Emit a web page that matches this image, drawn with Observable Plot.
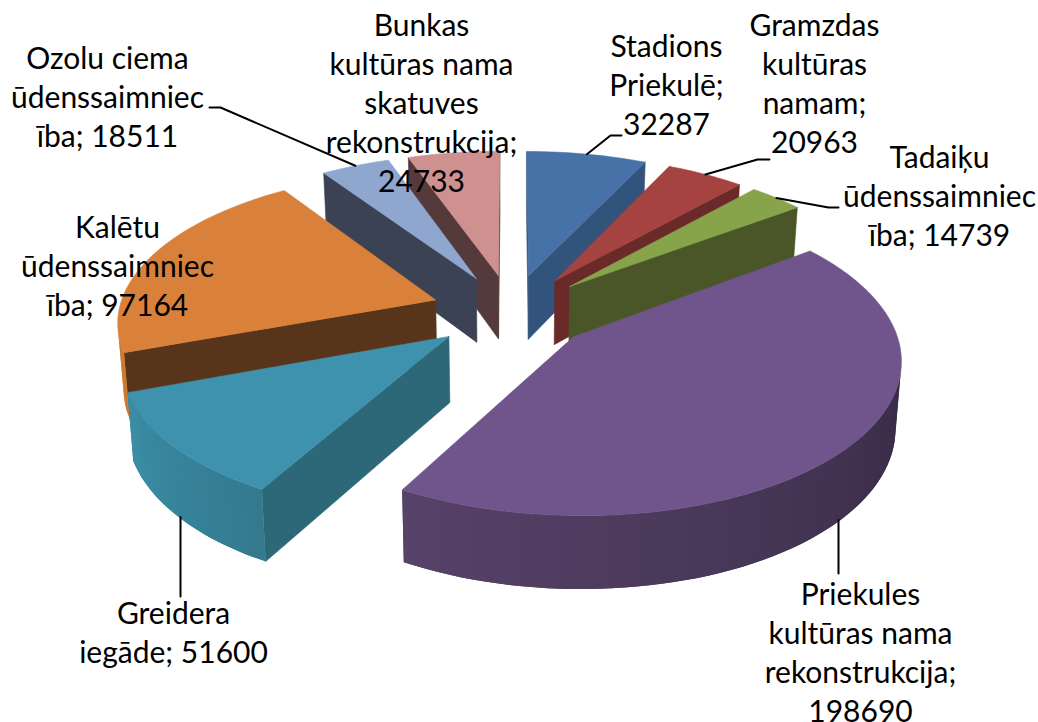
<!DOCTYPE html>
<html><head><meta charset="utf-8">
<script src="https://cdn.jsdelivr.net/npm/d3@7"></script>
<script src="https://cdn.jsdelivr.net/npm/@observablehq/plot@0.6"></script>
<style>html,body{margin:0;padding:0;background:#fff}svg{display:block}</style>
</head><body><div id="chart"></div>
<script>
const categories = ["Stadions Priekulē","Gramzdas kultūras namam","Tadaiķu ūdenssaimniecība","Priekules kultūras nama rekonstrukcija","Greidera iegāde","Kalētu ūdenssaimniecība","Ozolu ciema ūdenssaimniecība","Bunkas kultūras nama skatuves rekonstrukcija"];
const values = [32287,20963,14739,198690,51600,97164,18511,24733];
const labelTexts = [
  "Stadions\nPriekulē;\n32287",
  "Gramzdas\nkultūras\nnamam;\n20963",
  "Tadaiķu\nūdenssaimniec\nība; 14739",
  "Priekules\nkultūras nama\nrekonstrukcija;\n198690",
  "Greidera\niegāde; 51600",
  "Kalētu\nūdenssaimniec\nība; 97164",
  "Ozolu ciema\nūdenssaimniec\nība; 18511",
  "Bunkas\nkultūras nama\nskatuves\nrekonstrukcija;\n24733"
];
const topColors  = ["#4672a8","#a54340","#87a44a","#70558c","#3f92ad","#d9813a","#8fa6cf","#cf9190"];
const wallColors = ["#32547c","#6b2a2a","#4a5628","#2a2236","#2d6879","#58351a","#3a4254","#553a3b"];
const rimStart   = ["#32547c","#6b2a2a","#4a5628","#2b2237","#337a8e","#d07a30","#3a4254","#553a3b"];
const rimEnd     = ["#32547c","#6b2a2a","#4a5628","#574269","#3b8ea6","#c8742c","#3a4254","#553a3b"];
const drawOrder  = [7,6,0,1,2,5,4,3];
const labelX = [666,814,939,860,173,117,107,421];
const labelTop = [44,23,155,592,611,225,56,23];
const leaderElbows = [
  [[610,135],[621,135]],
  [[757,159],[769,159]],
  [[828,207],[838,207]],
  [[838,573]],
  [[180,596]],
  [],
  [[220,107],[209,107]],
  []
];
const leaderOnBase = [false,false,false,true,true,false,false,false];

// pie geometry
const cx=511, cy=311, S=322, Sk=151, q=0.13, explode=0.25, radius=0.985, H=66, baseShrink=0.985, lineStep=39, fontPx=30;
const total = d3.sum(values);
const rad = d => d*Math.PI/180;
function project(X,Y,base){
  let s = 1/(1+q*Y);
  if(base) s*=baseShrink;
  return {x:cx+S*X*s, y:cy+(-Sk*Y+(base?H:0))*s};
}
let acc=0;
const slices = values.map((v,i)=>{
  const a0=acc/total*2*Math.PI; acc+=v; const a1=acc/total*2*Math.PI;
  const mid=(a0+a1)/2;
  return {i,a0,a1,mid,ox:explode*Math.sin(mid),oy:explode*Math.cos(mid)};
});
const rimPt=(sl,a,base)=>project(sl.ox+radius*Math.sin(a),sl.oy+radius*Math.cos(a),base);
const apexPt=(sl,base)=>project(sl.ox,sl.oy,base);
const area=p=>{let t=0;for(let i=0;i<p.length;i++){const a=p[i],b=p[(i+1)%p.length];t+=a.x*b.y-b.x*a.y}return t/2};

const faces=[];
let fid=0;
function addFace(pts,fill,stroke){
  const id=fid++;
  for(const p of [...pts,pts[0]]) faces.push({id,x:p.x,y:p.y,fill,stroke});
}
for(const i of drawOrder){
  const sl=slices[i];
  const w0=[apexPt(sl,false),rimPt(sl,sl.a0,false),rimPt(sl,sl.a0,true),apexPt(sl,true)];
  const w1=[rimPt(sl,sl.a1,false),apexPt(sl,false),apexPt(sl,true),rimPt(sl,sl.a1,true)];
  if(area(w0)<0) addFace(w0,wallColors[i],wallColors[i]);
  if(area(w1)<0) addFace(w1,wallColors[i],wallColors[i]);
  const n=Math.max(2,Math.ceil((sl.a1-sl.a0)/rad(2)));
  const color=d3.interpolateRgb(rimStart[i],rimEnd[i]);
  for(let k=0;k<n;k++){
    const a=sl.a0+(sl.a1-sl.a0)*k/n,b=sl.a0+(sl.a1-sl.a0)*(k+1)/n;
    const facing=[rimPt(sl,a,false),rimPt(sl,a,true),rimPt(sl,b,true),rimPt(sl,b,false)];
    if(area(facing)<=0) continue;
    const e=sl.a0+(sl.a1-sl.a0)*Math.min(k+2,n)/n; // overlap the next strip to hide seams
    const strip=[rimPt(sl,a,false),rimPt(sl,a,true),rimPt(sl,b,true),rimPt(sl,e,true),rimPt(sl,e,false),rimPt(sl,b,false)];
    addFace(strip,color((k+.5)/n),"none");
  }
  const top=[apexPt(sl,false)];
  for(let k=0;k<=n*2;k++) top.push(rimPt(sl,sl.a0+(sl.a1-sl.a0)*k/(n*2),false));
  addFace(top,topColors[i],topColors[i]);
}

const leaders=[];
slices.forEach((sl,i)=>{
  if(!leaderElbows[i].length) return;
  const st=rimPt(sl,sl.mid,leaderOnBase[i]);
  leaders.push({id:i,x:leaderOnBase[i]?leaderElbows[i][0][0]:st.x,y:st.y});
  leaderElbows[i].forEach(p=>leaders.push({id:i,x:p[0],y:p[1]}));
});
const labels=labelTexts.map((t,i)=>({t,x:labelX[i],y:labelTop[i]+(t.split("\n").length-1)/2*lineStep}));

const chart=Plot.plot({
  width:1038,height:722,margin:0,
  x:{axis:null,domain:[0,1038],range:[0,1038]},
  y:{axis:null,domain:[0,722],range:[0,722]},
  color:{type:"identity"},
  marks:[
    Plot.line(faces,{x:"x",y:"y",z:"id",fill:"fill",stroke:"stroke",strokeWidth:0.6,curve:"linear"}),
    Plot.line(leaders,{x:"x",y:"y",z:"id",stroke:"#000",strokeWidth:2,curve:"linear"}),
    Plot.text(labels,{x:"x",y:"y",text:"t",fontSize:fontPx,lineHeight:lineStep/fontPx,lineAnchor:"middle",textAnchor:"middle",fill:"#000",fontFamily:"Lato"})
  ]
});
document.getElementById("chart").appendChild(chart);
</script></body></html>
